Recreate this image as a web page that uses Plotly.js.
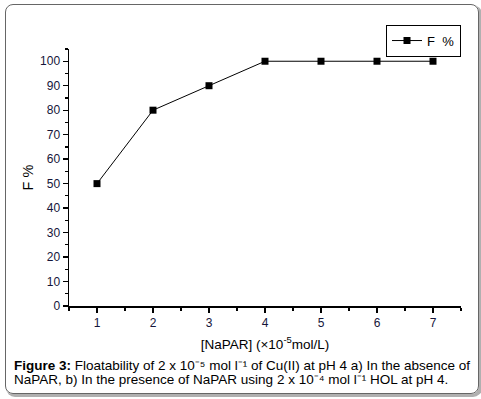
<!DOCTYPE html>
<html>
<head>
<meta charset="utf-8">
<script src="https://cdn.plot.ly/plotly-3.0.1.min.js"></script>
<style>
  html, body { margin: 0; padding: 0; background: #fff; }
  #wrap { position: relative; width: 481px; height: 399px; overflow: hidden; }
  #frame { position: absolute; left: 5px; top: 4px; width: 472px; height: 388px;
           border: 1px solid #666; border-radius: 8px; box-shadow: 2px 2px 0 1px #b0b0b0; }
  #chart { position: absolute; left: 0; top: 0; width: 481px; height: 399px; }
</style>
</head>
<body>
<div id="wrap">
  <div id="frame"></div>
  <div id="chart"></div>
</div>
<script>
const concentration = [1, 2, 3, 4, 5, 6, 7];
const floatability = [50, 80, 90, 100, 100, 100, 100];
const seriesName = 'F  %';
const xTitle = '[NaPAR] (×10<sup>-5</sup>mol/L)';
const yTitle = 'F %';
const captionLine1 = '<b>Figure 3:</b> Floatability of 2 x 10⁻⁵ mol l⁻¹ of Cu(II) at pH 4 a) In the absence of';
const captionLine2 = 'NaPAR, b) In the presence of NaPAR using 2 x 10⁻⁴ mol l⁻¹ HOL at pH 4.';

const font = 'Liberation Sans, Arial, sans-serif';
const tickColor = '#15153a';

const trace = {
  x: concentration, y: floatability, name: seriesName,
  type: 'scatter', mode: 'lines+markers',
  line: { color: '#000', width: 1 },
  marker: { symbol: 'square', size: 7, color: '#000' }
};

const axisCommon = {
  showline: true, linecolor: '#000', linewidth: 1.5,
  ticks: 'outside', ticklen: 5, tickwidth: 1.3, tickcolor: '#000',
  showgrid: false, zeroline: false, mirror: false,
  tickfont: { family: font, size: 12, color: tickColor }
};

const layout = {
  width: 481, height: 399,
  margin: { l: 69, r: 20, t: 49, b: 93 },
  paper_bgcolor: 'rgba(0,0,0,0)', plot_bgcolor: 'rgba(0,0,0,0)',
  font: { family: font, color: '#000' },
  showlegend: true,
  legend: { x: 1, xanchor: 'right', y: 1.095, yanchor: 'top',
            bordercolor: '#000', borderwidth: 1, bgcolor: '#fff',
            font: { family: font, size: 13, color: '#000' },
            itemwidth: 30, tracegroupgap: 0 },
  xaxis: Object.assign({}, axisCommon, {
    range: [0.5, 7.5], dtick: 1, tick0: 1,
    minor: { dtick: 0.5, tick0: 0.5, ticks: 'outside', ticklen: 3, tickcolor: '#000', tickwidth: 1.2 },
    title: { text: xTitle, font: { family: font, size: 13.5, color: '#000' }, standoff: 10 }
  }),
  yaxis: Object.assign({}, axisCommon, {
    range: [0, 105], dtick: 10, tick0: 0,
    minor: { dtick: 5, tick0: 0, ticks: 'outside', ticklen: 3, tickcolor: '#000', tickwidth: 1.2 },
    title: { text: yTitle, font: { family: font, size: 14.5, color: '#000' }, standoff: 3 }
  }),
  annotations: [
    { text: captionLine1, xref: 'paper', yref: 'paper', x: -0.1454, y: -0.2323,
      xanchor: 'left', yanchor: 'middle', showarrow: false, align: 'left',
      font: { family: font, size: 13.5, color: '#000' } },
    { text: captionLine2, xref: 'paper', yref: 'paper', x: -0.1454, y: -0.2848,
      xanchor: 'left', yanchor: 'middle', showarrow: false, align: 'left',
      font: { family: font, size: 13.5, color: '#000' } }
  ]
};

Plotly.newPlot('chart', [trace], layout, { displayModeBar: false, staticPlot: true });
</script>
</body>
</html>
